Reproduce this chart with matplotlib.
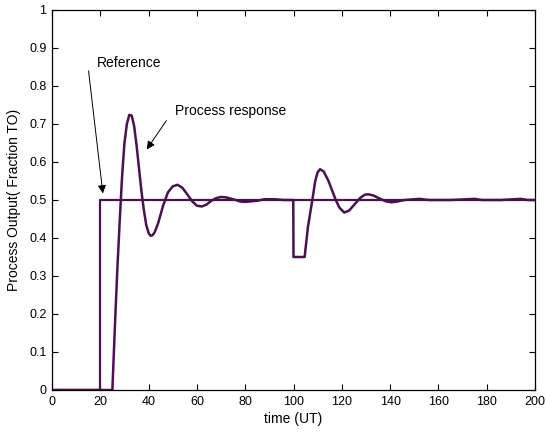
import matplotlib.pyplot as plt
import numpy as np

plt.rcParams['font.family'] = ['Liberation Sans', 'DejaVu Sans']

# reference (set point) signal
ref_t = [0, 20, 20, 200]
ref_y = [0, 0, 0.5, 0.5]

# process response
resp_t = [0, 25, 26, 27, 28, 29, 30, 31, 32, 33, 34, 35, 36, 37, 38, 39, 40, 40.8, 41.6, 42.5,
          44, 46, 48, 50, 52, 54, 56, 58, 60, 62, 64, 66, 68, 70, 72, 75, 78, 80,
          85, 88, 92, 96, 99.9,
          100, 104.6, 106, 107.8, 109, 110, 111, 112.5, 114.5, 116, 117.5, 119,
          121, 123, 125.5, 127.5, 129.5, 131, 133, 136, 138, 140.5, 143,
          146, 152, 156, 165, 175, 178, 186, 194, 197, 200]
resp_y = [0, 0, 0.16, 0.31, 0.44, 0.56, 0.65, 0.70, 0.724, 0.722, 0.695, 0.645, 0.585,
          0.525, 0.475, 0.435, 0.413, 0.406, 0.407, 0.415,
          0.44, 0.485, 0.52, 0.536, 0.54, 0.532, 0.515, 0.497, 0.485, 0.483, 0.488,
          0.498, 0.505, 0.508, 0.507, 0.502, 0.496, 0.495,
          0.498, 0.502, 0.502, 0.5, 0.5,
          0.35, 0.35, 0.43, 0.5, 0.55, 0.573, 0.581, 0.575, 0.55, 0.525, 0.5, 0.48,
          0.467, 0.472, 0.49, 0.505, 0.514, 0.515, 0.512, 0.503, 0.497, 0.494, 0.496,
          0.5, 0.503, 0.5, 0.5, 0.503, 0.5, 0.5, 0.503, 0.5, 0.5]

xticks = np.arange(0, 201, 20)
yticks = np.arange(0, 1.01, 0.1)

color = '#4a1050'

fig = plt.figure(figsize=(5.47, 4.33), dpi=100)
ax = fig.add_axes([52 / 547, 43 / 433, 483 / 547, 380 / 433])

ax.plot(ref_t, ref_y, color=color, lw=1.6)
ax.plot(resp_t, resp_y, color=color, lw=1.8)

ax.set_xlim(0, 200)
ax.set_ylim(0, 1)
ax.set_xticks(xticks)
ax.set_yticks(yticks)
ax.set_yticklabels(['0'] + ['%.1f' % v for v in yticks[1:-1]] + ['1'])
ax.tick_params(direction='in', top=True, right=True, labelsize=9, length=4.5, pad=4)
for s in ax.spines.values():
    s.set_linewidth(0.9)

ax.set_xlabel('time (UT)', fontsize=10, labelpad=3)
ax.set_ylabel('Process Output( Fraction TO)', fontsize=10, labelpad=6)

arrow = dict(arrowstyle='-|>', color='black', lw=0.7, mutation_scale=12)
ax.annotate('', xy=(21.2, 0.51), xytext=(15.0, 0.847), arrowprops=arrow)
ax.text(18.5, 0.86, 'Reference', fontsize=10, va='center', ha='left')
ax.annotate('', xy=(38.6, 0.627), xytext=(48.0, 0.715), arrowprops=arrow)
ax.text(51.1, 0.735, 'Process response', fontsize=10, va='center', ha='left')

fig.savefig('out.png', dpi=100)
